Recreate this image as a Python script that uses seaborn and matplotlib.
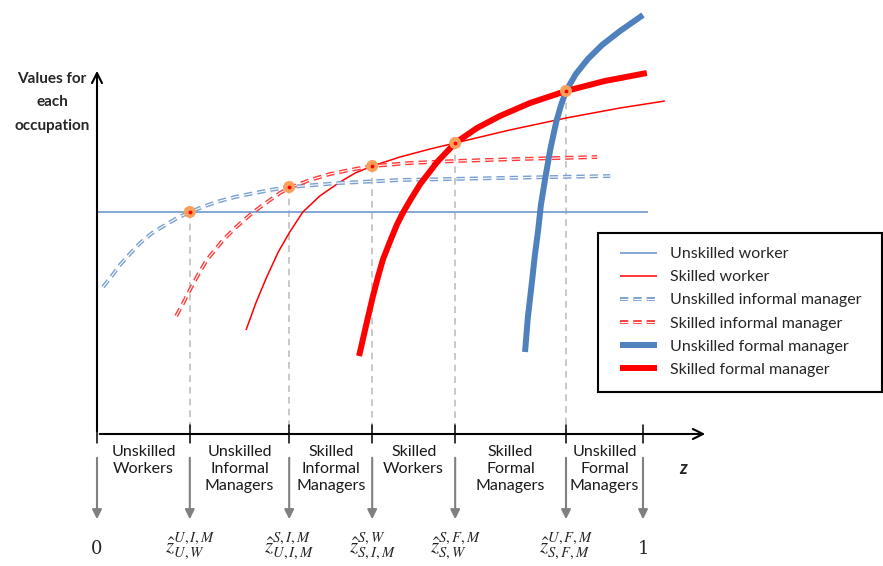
import numpy as np
import matplotlib
matplotlib.use("Agg")
import matplotlib.pyplot as plt
import matplotlib.patheffects as pe
from matplotlib.patches import Rectangle
import seaborn as sns

# --- data (z on [0, 1], values in arbitrary units) ---
uw_z = [0.0, 1.009]
uw_v = [2.22, 2.22]

sw_z = [0.273, 0.291, 0.310, 0.332, 0.353, 0.377, 0.408, 0.445, 0.473, 0.504, 0.555, 0.610,
        0.656, 0.756, 0.859, 0.958, 1.040]
sw_v = [1.04, 1.31, 1.56, 1.82, 2.02, 2.22, 2.38, 2.52, 2.61, 2.68, 2.77, 2.85,
        2.91, 3.04, 3.16, 3.26, 3.33]

uim_z = [0.011, 0.027, 0.042, 0.060, 0.079, 0.101, 0.125, 0.147, 0.170, 0.198, 0.225, 0.253,
         0.280, 0.317, 0.352, 0.399, 0.445, 0.500, 0.555, 0.647, 0.738, 0.839, 0.940]
uim_v = [1.47, 1.58, 1.69, 1.80, 1.91, 2.01, 2.09, 2.16, 2.22, 2.28, 2.33, 2.37,
         2.40, 2.44, 2.47, 2.49, 2.51, 2.525, 2.54, 2.55, 2.56, 2.57, 2.58]

sim_z = [0.145, 0.158, 0.170, 0.185, 0.201, 0.216, 0.231, 0.255, 0.280, 0.299, 0.317, 0.335,
         0.352, 0.390, 0.427, 0.463, 0.504, 0.573, 0.656, 0.775, 0.916]
sim_v = [1.18, 1.31, 1.44, 1.59, 1.74, 1.84, 1.94, 2.07, 2.19, 2.27, 2.34, 2.41,
         2.46, 2.54, 2.60, 2.64, 2.68, 2.71, 2.73, 2.75, 2.77]

sfm_z = [0.480, 0.493, 0.505, 0.515, 0.524, 0.537, 0.549, 0.560, 0.575, 0.592, 0.623, 0.656,
         0.696, 0.738, 0.793, 0.859, 0.930, 1.007]
sfm_v = [0.78, 1.09, 1.37, 1.58, 1.75, 1.93, 2.09, 2.21, 2.35, 2.50, 2.72, 2.91,
         3.06, 3.18, 3.31, 3.43, 3.53, 3.61]

ufm_z = [0.784, 0.789, 0.797, 0.802, 0.808, 0.813, 0.821, 0.830, 0.841, 0.850, 0.859, 0.877,
         0.899, 0.925, 0.958, 1.0]
ufm_v = [0.82, 1.16, 1.54, 1.79, 2.04, 2.29, 2.56, 2.84, 3.12, 3.29, 3.43, 3.60,
         3.75, 3.89, 4.03, 4.19]

# intersection points / thresholds
cut_z = [0.170, 0.352, 0.504, 0.656, 0.859]
cut_v = [2.22, 2.47, 2.68, 2.91, 3.43]
bounds = [0.0] + cut_z + [1.0]

regions = ["Unskilled\nWorkers", "Unskilled\nInformal\nManagers", "Skilled\nInformal\nManagers",
           "Skilled\nWorkers", "Skilled\nFormal\nManagers", "Unskilled\nFormal\nManagers"]
cut_labels = [r"$\hat{z}^{U,I,M}_{U,W}$", r"$\hat{z}^{S,I,M}_{U,I,M}$", r"$\hat{z}^{S,W}_{S,I,M}$",
              r"$\hat{z}^{S,F,M}_{S,W}$", r"$\hat{z}^{U,F,M}_{S,F,M}$"]

BLUE = "#4F81BD"
LBLUE = "#7A9FD0"
RED = "#FF0000"
ORANGE = "#F9A05A"

sns.set_style("white")
plt.rcParams["font.family"] = ["Lato", "DejaVu Sans"]
plt.rcParams["mathtext.fontset"] = "stix"

fig = plt.figure(figsize=(8.83, 5.66), dpi=100)
ax = fig.add_axes([0, 0, 1, 1])
ax.set_xlim(-97 / 546, 786 / 546)
ax.set_ylim(-1.32, 4.34)
ax.axis("off")

# double dashed look: white dashes over a wider coloured stroke
def double(color):
    return [pe.Stroke(linewidth=2.8, foreground=color), pe.Normal()]

kw = dict(ax=ax, sort=False, solid_joinstyle="round", solid_capstyle="butt")
sns.lineplot(x=uw_z, y=uw_v, color=LBLUE, lw=1.3, label="Unskilled worker", **kw)
sns.lineplot(x=sw_z, y=sw_v, color=RED, lw=1.1, label="Skilled worker", **kw)
l3 = sns.lineplot(x=uim_z, y=uim_v, color="white", lw=0.8,
                  label="Unskilled informal manager", **kw).lines[-1]
l3.set_dashes((7.5, 4.5))
l3.set_path_effects(double(LBLUE))
l4 = sns.lineplot(x=sim_z, y=sim_v, color="white", lw=0.8,
                  label="Skilled informal manager", **kw).lines[-1]
l4.set_dashes((7.5, 4.5))
l4.set_path_effects(double("#FF3B3B"))
sns.lineplot(x=ufm_z, y=ufm_v, color=BLUE, lw=4.3, label="Unskilled formal manager", **kw)
sns.lineplot(x=sfm_z, y=sfm_v, color=RED, lw=4.3, label="Skilled formal manager", **kw)

# thresholds: dashed grey drops and markers
for z, v in zip(cut_z, cut_v):
    ax.plot([z, z], [v, 0], color="#BFBFBF", lw=1.2, dashes=(4, 3), zorder=1)
ax.scatter(cut_z, cut_v, s=75, color=ORANGE, zorder=5, edgecolor="none")
ax.scatter(cut_z, cut_v, s=3, color=RED, zorder=6)

# axes
ax.annotate("", xy=(0, 3.66), xytext=(0, 0),
            arrowprops=dict(arrowstyle="->", lw=1.5, color="black", mutation_scale=18))
ax.annotate("", xy=(611 / 546, 0), xytext=(0, 0),
            arrowprops=dict(arrowstyle="->", lw=1.5, color="black", mutation_scale=18))
for b in bounds:
    ax.plot([b, b], [0.09, -0.09], color="black", lw=1.1)
    ax.annotate("", xy=(b, -0.88), xytext=(b, -0.21),
                arrowprops=dict(arrowstyle="-|>", lw=1.5, color="#808080", mutation_scale=14))

for i, lab in enumerate(regions):
    ax.text((bounds[i] + bounds[i + 1]) / 2, -0.115, lab, ha="center", va="top",
            fontsize=11.5, linespacing=1.26, color="#1a1a1a")

ax.text(0, -1.15, "0", ha="center", va="center", fontsize=13, family="DejaVu Serif")
ax.text(1, -1.15, "1", ha="center", va="center", fontsize=13, family="DejaVu Serif")
for z, lab in zip(cut_z, cut_labels):
    ax.text(z, -1.13, lab, ha="center", va="center", fontsize=15)

ax.text(586 / 546, -0.34, "z", ha="center", va="center", fontsize=13,
        fontweight="bold", style="italic")
ax.text(-45 / 546, 3.62, "Values for\neach\noccupation", ha="center", va="top",
        fontsize=11, fontweight="bold", linespacing=1.85)

# legend box drawn separately for exact placement
fig.patches.append(Rectangle((598 / 883, 1 - 392 / 566), 284 / 883, 159 / 566,
                             transform=fig.transFigure, fill=False, edgecolor="black", lw=1.5))
leg = ax.legend(loc="upper left", bbox_to_anchor=(620 / 883, 1 - 247 / 566),
                bbox_transform=fig.transFigure, frameon=False, fontsize=11.5,
                handlelength=2.3, handletextpad=0.8, borderpad=0, labelspacing=0.56,
                borderaxespad=0)

fig.savefig("out.png", dpi=100)
